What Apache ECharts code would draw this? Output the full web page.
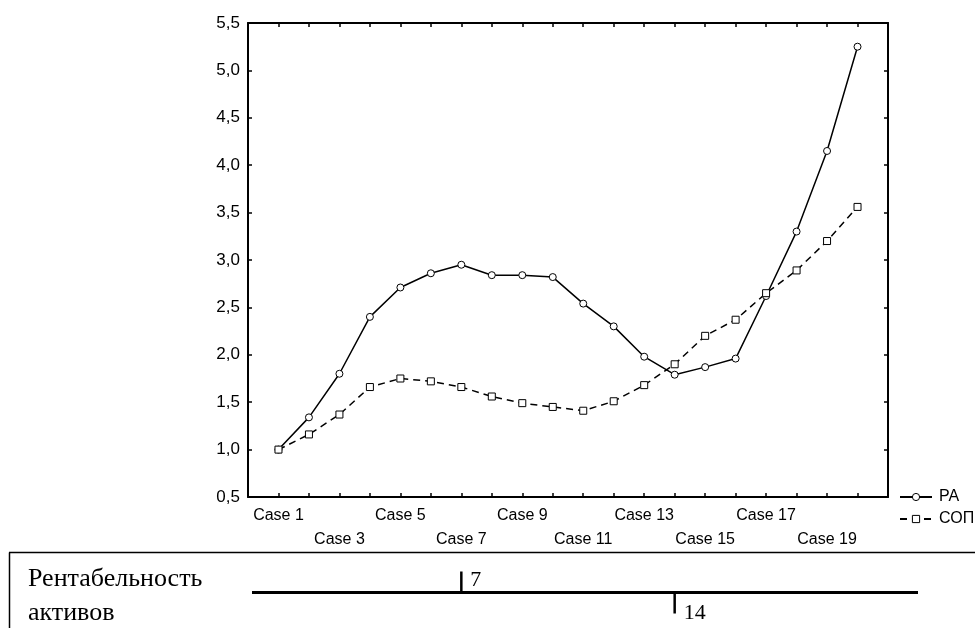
<!DOCTYPE html>
<html>
<head>
<meta charset="utf-8">
<script src="https://cdn.jsdelivr.net/npm/echarts@6/dist/echarts.min.js"></script>
<style>
  html, body { margin: 0; padding: 0; background: #fff; }
  #chart { width: 975px; height: 628px; }
</style>
</head>
<body>
<div id="chart"></div>
<script>
// Observations, one per case
const categories = [
  'Case 1', 'Case 2', 'Case 3', 'Case 4', 'Case 5', 'Case 6', 'Case 7', 'Case 8', 'Case 9', 'Case 10',
  'Case 11', 'Case 12', 'Case 13', 'Case 14', 'Case 15', 'Case 16', 'Case 17', 'Case 18', 'Case 19', 'Case 20'
];
const seriesNames = ['РА', 'СОП'];
const paValues  = [1.00, 1.34, 1.80, 2.40, 2.71, 2.86, 2.95, 2.84, 2.84, 2.82, 2.54, 2.30, 1.98, 1.79, 1.87, 1.96, 2.62, 3.30, 4.15, 5.25];
const sopValues = [1.00, 1.16, 1.37, 1.66, 1.75, 1.72, 1.66, 1.56, 1.49, 1.45, 1.41, 1.51, 1.68, 1.90, 2.20, 2.37, 2.65, 2.89, 3.20, 3.56];

// Value axis range and step
const yMin = 0.5, yMax = 5.5, yStep = 0.5;

// Case labels are staggered on two rows
const upperRowCases = [1, 5, 9, 13, 17];
const lowerRowCases = [3, 7, 11, 15, 19];

// Breakpoints on the strip under the chart
const stripMarks = [7, 14];
const stripTitle = ['Рентабельность', 'активов'];

const SANS = '"Liberation Sans", Arial, sans-serif';
const SERIF = '"Liberation Serif", "Times New Roman", serif';

const chart = echarts.init(document.getElementById('chart'), null, { renderer: 'canvas' });

const caseMin = 0, caseMax = categories.length + 1;

function toPoints(values) {
  return values.map((v, i) => [i + 1, v]);
}

const frameLine = { show: true, onZero: false, lineStyle: { color: '#000', width: 2 } };
const innerTick = { show: true, inside: true, length: 4, lineStyle: { color: '#000', width: 1.5 } };
const hollowMarker = { color: '#fff', borderColor: '#000', borderWidth: 1 };

const option = {
  animation: false,
  backgroundColor: '#fff',
  grid: { left: 248, top: 23, right: 87, bottom: 131, containLabel: false },
  xAxis: [
    {
      type: 'value', position: 'bottom', min: caseMin, max: caseMax, interval: 1,
      axisLine: frameLine, axisTick: innerTick, splitLine: { show: false },
      axisLabel: {
        show: true, margin: 7, color: '#000', fontFamily: SANS, fontSize: 16, lineHeight: 24,
        formatter: function (v) {
          if (upperRowCases.indexOf(v) >= 0) return categories[v - 1];
          if (lowerRowCases.indexOf(v) >= 0) return '\n' + categories[v - 1];
          return '';
        }
      }
    },
    {
      type: 'value', position: 'top', min: caseMin, max: caseMax, interval: 1,
      axisLine: frameLine, axisTick: innerTick, splitLine: { show: false },
      axisLabel: { show: false }
    }
  ],
  yAxis: [
    {
      type: 'value', position: 'left', min: yMin, max: yMax, interval: yStep,
      axisLine: frameLine, axisTick: innerTick, splitLine: { show: false },
      axisLabel: {
        margin: 8, color: '#000', fontFamily: SANS, fontSize: 17,
        formatter: v => v.toFixed(1).replace('.', ',')
      }
    },
    {
      type: 'value', position: 'right', min: yMin, max: yMax, interval: yStep,
      axisLine: frameLine, axisTick: innerTick, splitLine: { show: false },
      axisLabel: { show: false }
    }
  ],
  legend: {
    orient: 'vertical', left: 899, top: 489, padding: 0, itemGap: 6,
    itemWidth: 32, itemHeight: 9,
    itemStyle: hollowMarker,
    textStyle: { color: '#000', fontFamily: SANS, fontSize: 16, lineHeight: 16, padding: [0, 0, 0, 2] },
    data: seriesNames
  },
  series: [
    {
      name: seriesNames[0], type: 'line', data: toPoints(paValues),
      symbol: 'circle', symbolSize: 7,
      lineStyle: { color: '#000', width: 1.5, type: 'solid' },
      itemStyle: hollowMarker,
      emphasis: { disabled: true }
    },
    {
      name: seriesNames[1], type: 'line', data: toPoints(sopValues),
      symbol: 'rect', symbolSize: 7,
      lineStyle: { color: '#000', width: 1.5, type: [7, 5] },
      itemStyle: hollowMarker,
      emphasis: { disabled: true }
    }
  ]
};

chart.setOption(option);

// Strip under the chart: boxed title plus a scale whose breakpoints follow the case axis
const stripTop = 552.5, stripScaleY = 592.5;
const graphics = [
  { type: 'line', shape: { x1: 9, y1: stripTop, x2: 975, y2: stripTop }, style: { stroke: '#000', lineWidth: 1.5 } },
  { type: 'line', shape: { x1: 9.5, y1: stripTop, x2: 9.5, y2: 628 }, style: { stroke: '#000', lineWidth: 1.5 } },
  { type: 'line', shape: { x1: 252, y1: stripScaleY, x2: 918, y2: stripScaleY }, style: { stroke: '#000', lineWidth: 3 } },
  { type: 'text', left: 28, top: 566, style: { text: stripTitle[0], font: '26px ' + SERIF, fill: '#000' } },
  { type: 'text', left: 28, top: 600, style: { text: stripTitle[1], font: '26px ' + SERIF, fill: '#000' } }
];
stripMarks.forEach((m, i) => {
  const x = chart.convertToPixel({ xAxisIndex: 0 }, m);
  const up = i % 2 === 0;
  graphics.push({
    type: 'line',
    shape: { x1: x, y1: up ? stripScaleY - 21 : stripScaleY, x2: x, y2: up ? stripScaleY : stripScaleY + 21 },
    style: { stroke: '#000', lineWidth: 2.5 }
  });
  graphics.push({
    type: 'text', x: x + 9, y: up ? 569 : 602,
    style: { text: String(m), font: '22px ' + SERIF, fill: '#000' }
  });
});
chart.setOption({ graphic: graphics });
</script>
</body>
</html>
